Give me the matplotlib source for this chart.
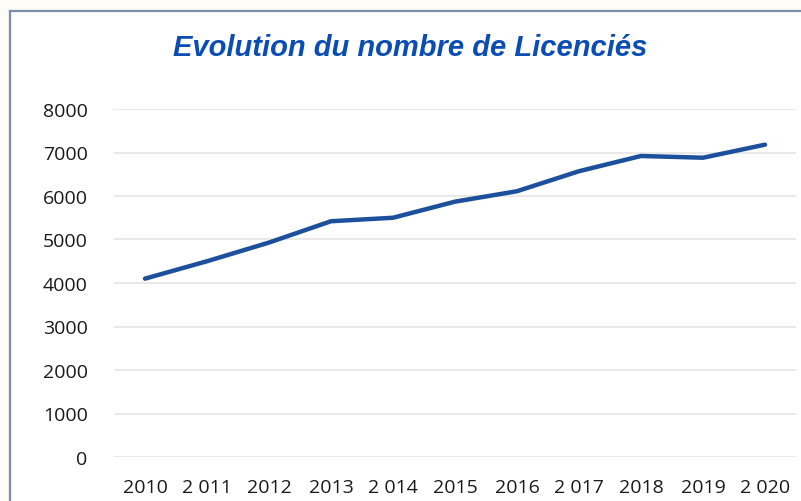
import numpy as np
import matplotlib.pyplot as plt
from matplotlib.patches import Rectangle

years = ['2010', '2 011', '2012', '2013', '2 014', '2015', '2016', '2 017', '2018', '2019', '2 020']
licencies = [4100, 4500, 4930, 5420, 5500, 5870, 6110, 6570, 6920, 6880, 7180]
yticks = [0, 1000, 2000, 3000, 4000, 5000, 6000, 7000, 8000]

W, H = 801, 502
fig = plt.figure(figsize=(W/100, H/100), dpi=100)
fig.patch.set_facecolor('#fdfcf6')

# white chart area with the scanned frame at left and top
fig.add_artist(Rectangle((10/W, 0), 1, 1 - 12/H, transform=fig.transFigure,
                         facecolor='white', edgecolor='none', zorder=0))
fig.add_artist(plt.Line2D([10/W, 10/W], [0, 1 - 12/H], transform=fig.transFigure,
                          color='#7d8ea8', lw=1.6))
fig.add_artist(plt.Line2D([10/W, 1], [1 - 12/H, 1 - 12/H], transform=fig.transFigure,
                          color='#7d8ea8', lw=1.6))

ax = fig.add_axes([114/W, 1 - 458/H, (796 - 114)/W, (458 - 110)/H])
ax.set_facecolor('none')
x = np.arange(len(years))
ax.plot(x, licencies, color='#1c4f9c', lw=3.2, solid_capstyle='round', zorder=3)

ax.set_xlim(-0.5, len(years) - 0.5)
ax.set_ylim(0, 8000)
ax.set_yticks(yticks)
ax.set_yticklabels([str(v) for v in yticks])
ax.set_xticks(x)
ax.set_xticklabels(years)
ax.grid(axis='y', color='#e9e9e9', lw=1.5)
ax.set_axisbelow(True)
for s in ax.spines.values():
    s.set_visible(False)
ax.tick_params(length=0, labelsize=14, labelcolor='#1a1a1a')
ax.tick_params(axis='x', pad=15)
ax.tick_params(axis='y', pad=19)
for lab in ax.get_xticklabels() + ax.get_yticklabels():
    lab.set_family('Open Sans')

fig.text(410/W, 1 - 48/H, 'Evolution du nombre de Licenciés', ha='center', va='center',
         fontsize=21, fontweight='bold', fontstyle='italic', color='#0a4db4',
         family='Liberation Sans')

plt.savefig('out.png', dpi=100)
